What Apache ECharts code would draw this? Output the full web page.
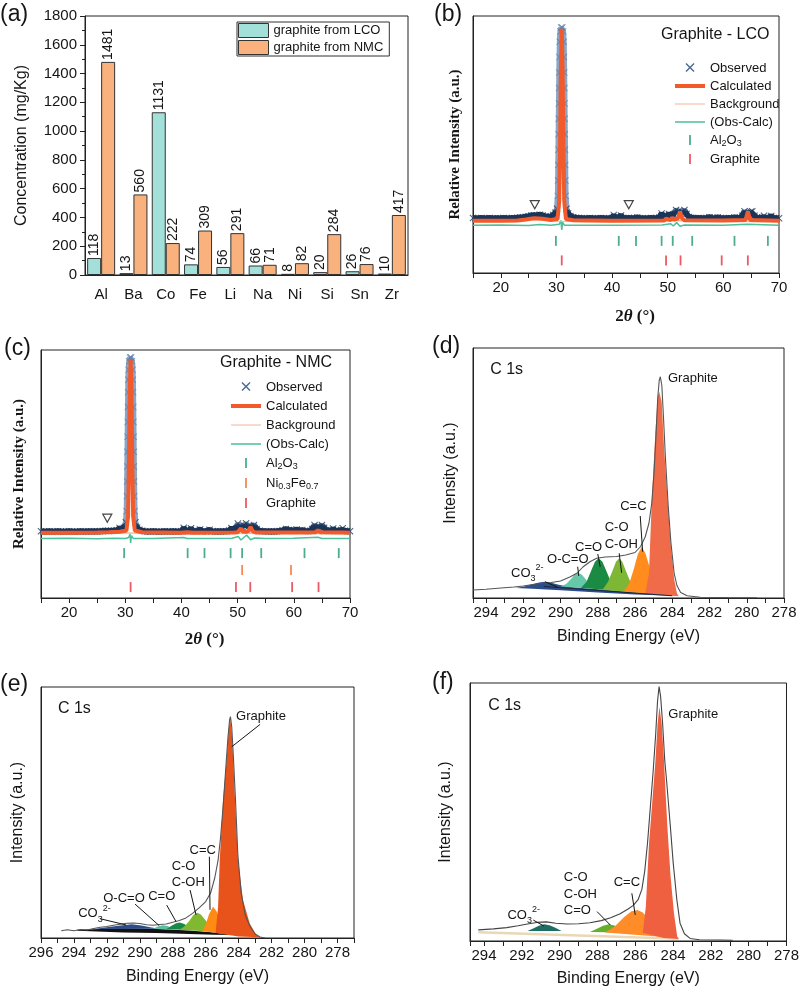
<!DOCTYPE html>
<html><head><meta charset="utf-8">
<script src="https://cdn.jsdelivr.net/npm/echarts@6/dist/echarts.min.js"></script>
<style>html,body{margin:0;padding:0;background:#fff;}#chart{width:802px;height:992px;}</style>
</head><body><div id="chart"></div>
<script>
// ================= DATA =================
// (a) ICP concentrations (mg/Kg)
const elements = ['Al','Ba','Co','Fe','Li','Na','Ni','Si','Sn','Zr'];
const lcoConc = [118,13,1131,74,56,66,8,20,26,10];
const nmcConc = [1481,560,222,309,291,71,82,284,76,417];

// (b) XRD Graphite - LCO  [2theta, relative intensity]
const lcoObserved = [[15,21.4],[15.5,21.2],[16,21.3],[16.5,21.4],[17,21.2],[17.5,21.3],[18,21.4],[18.5,21.2],[19,21.3],[19.5,21.3],[20,21.2],[20.5,21.4],[21,21.3],[21.5,21.2],[22,21.4],[22.5,21.3],[23,21.5],[23.5,21.6],[24,21.7],[24.5,21.9],[25,22.1],[25.5,22.4],[26,22.5],[26.5,22.4],[27,22.7],[27.5,22.4],[28,22.0],[28.5,21.8],[29,22.0],[29.4,22.6],[29.8,23.4],[30.1,25],[30.25,30],[30.3,36],[30.33,42],[30.36,48],[30.39,54],[30.42,60],[30.45,66],[30.48,72],[30.51,78],[30.55,84],[30.6,90],[30.7,94],[30.85,95.5],[31.05,95.5],[31.2,94],[31.3,90],[31.35,84],[31.39,78],[31.42,72],[31.45,66],[31.48,60],[31.51,54],[31.54,48],[31.57,42],[31.6,36],[31.65,30],[31.8,25],[32.1,23.2],[32.5,22.2],[33,21.7],[33.5,21.5],[34,21.4],[34.5,21.3],[35,21.3],[35.5,21.2],[36,21.4],[36.5,21.3],[37,21.2],[37.5,21.3],[38,21.4],[38.5,21.3],[39,21.2],[39.5,21.3],[40,21.4],[40.3,22.6],[40.6,21.5],[41,21.4],[41.6,22.4],[42,21.4],[42.5,21.3],[43,21.4],[43.5,21.3],[44,21.4],[44.5,21.6],[45,21.3],[45.5,21.3],[46,21.2],[46.5,21.3],[47,21.4],[47.5,21.3],[48,21.4],[48.5,21.6],[48.9,23.2],[49.3,21.8],[49.7,22.0],[50.2,23.0],[50.6,22.2],[51.0,22.8],[51.5,24.5],[51.9,24.0],[52.3,23.3],[52.6,23.6],[53.0,24.5],[53.4,23.0],[53.8,21.8],[54.2,21.5],[54.6,21.4],[55,21.3],[55.5,21.4],[56,21.3],[56.5,21.3],[57,21.4],[57.5,21.7],[58,21.4],[58.5,21.3],[59,21.6],[59.5,21.4],[60,21.3],[60.5,21.3],[61,21.4],[61.5,21.3],[62,21.6],[62.5,21.4],[63,21.5],[63.4,22.3],[63.8,24.0],[64.2,23.0],[64.5,22.8],[64.9,23.8],[65.2,24.0],[65.6,22.3],[66,21.5],[66.5,21.4],[67,21.6],[67.3,22.3],[67.6,21.5],[68,21.4],[68.6,22.2],[69,21.4],[69.5,21.3],[70,21.3]];
const lcoCalculated = [[15,20.3],[20,20.3],[23,20.4],[24.5,20.8],[26,21.3],[27.5,21.1],[29,20.6],[30.2,21.0],[30.5,28],[30.65,50],[30.8,80],[30.95,95],[31.1,80],[31.25,50],[31.4,28],[31.7,21.0],[33,20.5],[40,20.3],[49.4,20.4],[49.7,21.2],[50.0,20.5],[50.5,20.6],[50.8,21.6],[51.1,20.8],[51.8,21.2],[52.2,23.9],[52.6,21.2],[53,20.5],[59.4,20.4],[59.7,20.9],[60,20.4],[64.0,20.6],[64.4,23.9],[64.8,20.6],[70,20.3]];
const lcoBackground = [[15,20.0],[22,20.0],[24,20.3],[26,20.9],[28,20.6],[30,20.2],[35,20.0],[45,20.0],[50,20.2],[52,20.4],[55,20.1],[70,20.0]];
const lcoDifference = [[15,18.6],[20,18.7],[25,18.5],[27,18.9],[29,18.6],[30.5,19.0],[30.8,20.4],[30.95,16.8],[31.1,19.8],[31.4,18.6],[40,18.6],[49,18.7],[50.5,19.2],[51,18.3],[51.6,19.6],[52.2,18.2],[53,18.7],[60,18.6],[64.3,19.0],[70,18.6]];
const lcoAl2O3Peaks = [29.9,41.2,44.3,48.9,50.9,54.4,62.0,68.0];
const lcoGraphitePeaks = [30.95,49.7,52.3,59.7,64.4];
const lcoUnknownMarks = [[26.1,26.6],[43.0,26.6]];

// (c) XRD Graphite - NMC
const nmcObserved = [[15,26.9],[15.5,26.7],[16,26.8],[16.5,26.9],[17,26.7],[17.5,26.8],[18,26.9],[18.5,26.8],[19,26.7],[19.5,26.8],[20,26.9],[20.5,26.8],[21,26.7],[21.5,26.8],[22,26.9],[22.5,26.8],[23,26.8],[23.5,26.9],[24,26.8],[24.5,26.9],[25,26.8],[25.5,26.9],[26,27.0],[26.5,27.1],[27,27.0],[27.5,27.1],[28,27.1],[28.5,27.3],[29,28.2],[29.4,27.6],[29.8,28.3],[30.1,30.5],[30.25,35],[30.3,41],[30.33,47],[30.36,53],[30.39,59],[30.42,65],[30.45,71],[30.48,77],[30.51,83],[30.55,88],[30.6,92],[30.7,95.5],[30.85,97],[31.05,97],[31.2,95.5],[31.3,92],[31.35,88],[31.39,83],[31.42,77],[31.45,71],[31.48,65],[31.51,59],[31.54,53],[31.57,47],[31.6,41],[31.65,35],[31.8,30.5],[32.1,28.3],[32.5,27.5],[33,27.1],[33.5,26.9],[34,26.8],[34.5,26.8],[35,26.9],[35.5,26.8],[36,26.7],[36.5,26.8],[37,26.9],[37.5,26.8],[38,26.8],[38.5,26.9],[39,26.8],[39.5,26.8],[40,26.9],[40.4,28.3],[40.8,27.0],[41.2,26.9],[41.7,28.1],[42.1,27.0],[42.6,26.9],[43.3,27.6],[43.8,26.9],[44.3,26.9],[45.0,27.5],[45.5,26.9],[46,26.8],[46.5,26.9],[47,26.8],[47.5,26.9],[48,26.9],[48.5,27.2],[48.9,28.2],[49.3,27.3],[49.7,27.8],[50.05,30.0],[50.4,28.8],[50.7,28.6],[51.1,29.2],[51.5,30.1],[51.9,28.8],[52.3,28.9],[52.9,29.4],[53.4,27.8],[53.9,27.1],[54.4,26.9],[55,26.9],[55.5,26.8],[56,26.9],[56.5,26.8],[57,26.9],[57.5,27.0],[58,27.3],[58.6,27.8],[59.1,27.4],[59.6,27.3],[60,27.2],[60.5,27.6],[61,27.1],[61.5,27.4],[62,27.0],[62.5,26.9],[63,27.1],[63.3,27.8],[63.7,29.4],[64.1,28.4],[64.5,28.6],[65.0,29.4],[65.4,28.3],[65.8,27.4],[66.3,27.0],[66.7,27.1],[67.0,28.0],[67.4,27.1],[68,27.0],[68.4,27.4],[68.7,28.1],[69.1,27.1],[69.5,26.9],[70,26.9]];
const nmcCalculated = [[15,26.3],[20,26.3],[25,26.4],[27,26.5],[29,26.7],[30.2,27.2],[30.5,33],[30.65,55],[30.8,84],[30.95,96],[31.1,84],[31.25,55],[31.4,33],[31.7,27.2],[33,26.5],[40,26.3],[41,26.5],[42,26.3],[49.4,26.4],[49.7,26.9],[50.0,26.5],[50.3,26.7],[50.6,28.1],[50.9,26.8],[51.5,26.7],[51.9,27.0],[52.3,28.7],[52.7,26.9],[53.2,26.4],[59.2,26.4],[59.5,26.9],[59.8,26.4],[63.9,26.5],[64.3,27.4],[64.7,26.5],[68.2,26.4],[68.5,26.7],[68.8,26.4],[70,26.3]];
const nmcBackground = [[15,26.0],[25,26.0],[28,26.2],[30,26.3],[35,26.0],[50,26.1],[53,26.2],[60,26.0],[70,26.0]];
const nmcDifference = [[15,24.0],[20,24.1],[25,23.9],[28,24.1],[30,24.0],[30.6,24.4],[30.85,25.8],[30.95,22.2],[31.1,25.2],[31.4,24.0],[35,24.0],[40.4,24.4],[41,24.0],[45,24.0],[49,24.1],[50.1,24.8],[50.6,23.4],[51.2,24.6],[51.6,25.4],[52.3,23.5],[53,24.2],[55,24.0],[60,24.1],[64.3,24.5],[65,24.0],[70,24.0]];
const nmcAl2O3Peaks = [29.8,41.1,44.1,48.75,50.8,54.2,61.9,68.0];
const nmcNiFePeaks = [50.8,59.5];
const nmcGraphitePeaks = [30.95,49.7,52.25,59.7,64.4];
const nmcUnknownMarks = [[26.8,32.2]];

// (d) XPS C 1s  [binding energy, intensity]
const xpsD_envelope = [[294.7,3.2],[294.0,3.5],[293.2,4.0],[292.5,4.4],[292.0,4.8],[291.5,5.4],[291.0,5.9],[290.5,6.2],[290.0,6.8],[289.5,8.4],[289.1,10.0],[288.8,12.4],[288.4,14.6],[288.06,15.9],[287.6,16.4],[287.0,16.6],[286.5,17.2],[286.0,18.2],[285.7,20.6],[285.45,24.5],[285.25,30],[285.1,38],[284.98,50],[284.88,64],[284.78,80],[284.7,87],[284.64,88.5],[284.56,85],[284.47,72],[284.36,55],[284.22,37],[284.07,22],[283.9,10],[283.75,5],[283.55,2.2],[283.2,0.9],[282.5,0.3],[281,0.15],[279.45,0.1]];
const xpsD_baseline = [[290.9,4.6],[284.0,0.9]];
const xpsD_CO3 = [[292.4,4.0],[291.9,4.7],[291.5,5.5],[291.15,6.2],[290.85,6.5],[290.5,6.1],[290.1,5.3],[289.7,4.7],[289.3,4.3],[288,3.5],[286,2.2],[284.0,0.9],[286,1.4],[288,2.2],[290,3.1],[291.5,3.7]];
const xpsD_OCO = [[290.0,4.6],[289.7,5.6],[289.45,7.5],[289.25,9.3],[289.05,10.1],[288.85,9.3],[288.65,7.5],[288.4,5.2],[288.1,3.6]];
const xpsD_CO = [[288.9,4.1],[288.6,6.5],[288.35,11],[288.15,14.5],[287.95,15.9],[287.75,14.5],[287.55,11],[287.3,6.5],[287.0,2.9]];
const xpsD_COH = [[287.75,3.2],[287.45,6.5],[287.2,11],[287.02,14.5],[286.85,15.9],[286.68,14.5],[286.5,11],[286.25,6.5],[285.9,2.1]];
const xpsD_CC = [[286.6,2.6],[286.3,6],[286.05,12],[285.85,17.5],[285.64,20.5],[285.45,18],[285.2,12],[284.9,5],[284.5,1.2]];
const xpsD_Graphite = [[285.45,1.7],[285.25,9.9],[285.1,39],[284.91,66],[284.78,80.5],[284.7,82.5],[284.57,78.5],[284.43,59],[284.25,39],[284.07,20.5],[283.89,7.2],[283.75,1.9],[283.65,0.7]];
// [text, x, y, anchor, leader x1, y1, x2, y2]
const xpsD_labels = [['C 1s',293.78,91.2,'l'],['Graphite',284.23,88,'l'],['C=C',286.09,36.5,'c',285.72,32.8,285.59,18.5],['C-O',287.63,28.1,'l'],['C-OH',287.63,21.6,'l',286.85,17.9,286.72,10.1],['C=O',288.49,20.4,'c',288.0,17.6,287.87,12.5],['O-C=O',289.61,15.6,'c',289.08,12.5,289.02,8.8],['CO3',292.66,10.0,'l',290.83,6.5,290.15,4.3]];

// (e) XPS C 1s
const xpsE_envelope = [[294.77,2.9],[294.4,3.3],[294.0,2.9],[293.6,3.4],[293.2,3.2],[292.8,3.8],[292.4,4.3],[292.0,4.6],[291.6,5.1],[291.2,5.5],[290.8,5.9],[290.4,6.0],[290.0,5.8],[289.6,5.3],[289.2,5.1],[288.8,5.4],[288.4,5.6],[288.0,6.3],[287.6,7.0],[287.2,8.0],[286.8,9.8],[286.4,12.0],[286.0,14.5],[285.7,18],[285.45,24],[285.25,31],[285.1,40],[284.95,52],[284.8,66],[284.65,80],[284.55,87],[284.5,88.2],[284.42,84],[284.32,72],[284.2,56],[284.05,33],[283.85,18],[283.6,9],[283.3,4.5],[283.0,1.6],[282.7,0.4],[282.4,0.0]];
const xpsE_wedge = [[293.8,3.3],[291,3.9],[289,3.6],[287,3.0],[285.5,2.2],[284.2,1.2],[285.5,1.3],[287,1.6],[289,2.0],[291,2.2],[293.8,2.9]];
const xpsE_CO3 = [[292.8,3.6],[292.0,4.3],[291.3,4.9],[290.5,5.5],[289.9,5.0],[289.3,4.2],[288.8,3.7]];
const xpsE_OCO = [[289.2,3.7],[288.9,4.6],[288.6,5.1],[288.3,4.8],[288.0,3.5]];
const xpsE_CO = [[288.4,3.5],[288.1,4.8],[287.8,5.9],[287.58,6.2],[287.3,5.6],[287.0,4.2],[286.8,3.2]];
const xpsE_COH = [[287.6,3.3],[287.3,4.6],[287.0,6.8],[286.75,9.2],[286.51,10.1],[286.3,9.4],[286.0,7.0],[285.7,4.3],[285.3,2.4]];
const xpsE_CC = [[286.2,2.8],[286.0,5.5],[285.8,9.5],[285.56,12.5],[285.35,10.8],[285.1,6.5],[284.8,3.0],[284.5,1.3]];
const xpsE_Graphite = [[285.4,2.0],[285.25,12.5],[285.15,31],[284.95,55],[284.75,69.6],[284.62,82],[284.52,87.9],[284.42,82],[284.32,69.6],[284.24,57.6],[284.04,31],[283.74,15.1],[283.33,5.8],[282.93,1.2],[282.7,0.3],[284.0,0.6]];
const xpsE_labels = [['C 1s',294.97,91.2,'l'],['Graphite',284.16,88.2,'l',282.7,85.1,284.42,76.2],['C=C',286.18,34.7,'c',285.78,32.4,285.74,11.2],['C-O',288.07,28.4,'l'],['C-OH',288.07,22.0,'l',286.95,19.1,286.59,9.2],['C=O',288.67,16.5,'c',288.37,13.1,287.8,6.5],['O-C=O',290.96,15.8,'c',290.29,13.5,288.82,4.9],['CO3',293.74,9.6,'l',292.42,7.7,290.84,5.2]];

// (f) XPS C 1s
const xpsF_envelope = [[294.3,4.3],[293.5,4.7],[292.8,5.2],[292.2,5.9],[291.7,6.6],[291.2,7.2],[290.7,7.4],[290.2,6.9],[289.6,6.6],[289.0,6.7],[288.4,7.1],[287.8,7.9],[287.3,9.0],[286.8,10.6],[286.4,12.3],[286.1,13.8],[285.85,16],[285.65,20],[285.5,27],[285.35,38],[285.2,52],[285.05,66],[284.92,80],[284.82,93],[284.74,98.6],[284.66,95],[284.55,84],[284.44,70],[284.34,62],[284.15,45],[283.99,30.1],[283.8,16],[283.63,6.9],[283.4,2.8],[283.1,1.0],[282.6,0.5],[281.5,0.4],[280.85,0.3]];
const xpsF_background = [[294.3,3.4],[283.7,0.9]];
const xpsF_CO3 = [[291.7,3.9],[291.4,4.8],[291.1,5.9],[290.8,6.5],[290.5,6.0],[290.2,5.0],[289.9,3.9]];
const xpsF_COH = [[288.4,3.5],[288.0,4.8],[287.7,5.9],[287.4,6.5],[287.1,6.0],[286.8,4.8],[286.5,3.3]];
const xpsF_CC = [[287.6,3.3],[287.1,5.5],[286.6,9.2],[286.2,11.5],[285.88,12.0],[285.6,11.0],[285.3,8.5],[285.0,5.8],[284.65,3.0],[284.3,1.5]];
const xpsF_Graphite = [[285.6,3.2],[285.44,13.3],[285.27,37.9],[285.09,54.7],[284.93,70],[284.82,84],[284.72,90.8],[284.6,84],[284.48,70],[284.3,44.3],[284.13,24.9],[283.95,10.7],[283.78,1.7],[283.7,0.8],[284.5,1.2]];
const xpsF_labels = [['C 1s',293.78,91.1,'l'],['Graphite',284.25,88.0,'l'],['C=C',286.44,22.6,'c',286.18,18.5,286.0,10.1],['C-O',289.78,24.7,'l'],['C-OH',289.78,18.2,'l'],['C=O',289.78,12.0,'l',288.02,11.4,287.32,6.2],['CO3',292.76,10.1,'l',291.39,8.1,290.83,5.8]];

// ================= CHART =================
const SANS = '"Liberation Sans", Arial, Helvetica, sans-serif';
const SERIF = '"Liberation Serif", "Times New Roman", serif';
const INK = '#151515';
const XSYM = 'path://M0,1 L1,0 L5,4 L9,0 L10,1 L6,5 L10,9 L9,10 L5,6 L1,10 L0,9 L4,5 Z';
const ICON_X = 'path://M0,0 L0.01,0 M30,14 L29.99,14 M10.5,3 L11.5,2 L15,5.5 L18.5,2 L19.5,3 L16,6.5 L19.5,10 L18.5,11 L15,7.5 L11.5,11 L10.5,10 L14,6.5 Z';
const ICON_THICK = 'path://M0,0 L0.01,0 M30,14 L29.99,14 M0,5 L30,5 L30,9 L0,9 Z';
const ICON_THIN = 'path://M0,0 L0.01,0 M30,14 L29.99,14 M0,6.4 L30,6.4 L30,7.6 L0,7.6 Z';
const ICON_MED = 'path://M0,0 L0.01,0 M30,14 L29.99,14 M0,6.2 L30,6.2 L30,7.8 L0,7.8 Z';
const ICON_TICK = 'path://M0,0 L0.01,0 M30,14 L29.99,14 M14.1,2 L15.9,2 L15.9,12 L14.1,12 Z';

const C = {
  lco:'#A3E0DA', nmc:'#F9B27E', obsDark:'#1B365A', obsLight:'#8AA5C6', calc:'#F25A2C', bg:'#F6B49C', diff:'#4CBF9B',
  al2o3:'#1F9A70', graphite:'#E8313C', nife:'#F26B2E'
};
// vertical gradient for the observed trace: light on the tall peak, dark navy on the baseline band
function obsGradient(frac) {
  return {type:'linear', x:0, y:0, x2:0, y2:1, global:false, colorStops:[
    {offset:0, color:C.obsLight}, {offset:frac, color:C.obsLight}, {offset:Math.min(1, frac + 0.02), color:C.obsDark}, {offset:1, color:C.obsDark}]};
}

let chart = null;
const series = [];
function add(s){ series.push(s); return series.length - 1; }

// (a) bars
const barLabel = {show:true, position:'top', rotate:90, align:'left', verticalAlign:'middle', distance:2, fontSize:14, color:INK, fontFamily:SANS};
add({name:'graphite from LCO', type:'bar', xAxisIndex:0, yAxisIndex:0, data:lcoConc, barWidth:14, barGap:'0%', itemStyle:{color:C.lco, borderColor:'#333', borderWidth:1}, label:barLabel});
add({name:'graphite from NMC', type:'bar', xAxisIndex:0, yAxisIndex:0, data:nmcConc, barWidth:14, barGap:'0%', itemStyle:{color:C.nmc, borderColor:'#333', borderWidth:1}, label:barLabel});

// XRD panels
function xrd(gi, obs, calc, bg, diff, phases, marks, gradFrac) {
  add({name:'Observed', type:'line', xAxisIndex:gi, yAxisIndex:gi, data:obs, symbol:'none', lineStyle:{width:6, color:obsGradient(gradFrac)}, itemStyle:{color:C.obsDark}, z:3});
  const iObs = add({name:'Observed', type:'scatter', xAxisIndex:gi, yAxisIndex:gi, data:obs, symbol:XSYM, symbolSize:7, itemStyle:{color:C.obsDark}, z:3});
  add({name:'(Obs-Calc)', type:'line', xAxisIndex:gi, yAxisIndex:gi, data:diff, symbol:'none', lineStyle:{width:1.5, color:C.diff}, itemStyle:{color:C.diff}, z:3});
  add({name:'Background', type:'line', xAxisIndex:gi, yAxisIndex:gi, data:bg, symbol:'none', lineStyle:{width:1.3, color:C.bg}, itemStyle:{color:C.bg}, z:4});
  add({name:'Calculated', type:'line', xAxisIndex:gi, yAxisIndex:gi, data:calc, symbol:'none', lineStyle:{width:4, color:C.calc}, itemStyle:{color:C.calc}, z:5});
  phases.forEach(ph => add({name:ph.name, type:'scatter', xAxisIndex:gi, yAxisIndex:gi, data:ph.peaks.map(x => [x, ph.level]), symbol:'rect', symbolSize:[1.8,10], itemStyle:{color:ph.color}, z:4}));
  add({name:'unidentified', type:'scatter', xAxisIndex:gi, yAxisIndex:gi, data:marks, symbol:'triangle', symbolRotate:180, symbolSize:[9,8], itemStyle:{color:'#fff', borderColor:INK, borderWidth:1.2}, z:6});
  return iObs;
}
const iObsB = xrd(1, lcoObserved, lcoCalculated, lcoBackground, lcoDifference,
  [{name:'Al2O3', peaks:lcoAl2O3Peaks, level:12.5, color:C.al2o3}, {name:'Graphite', peaks:lcoGraphitePeaks, level:4.9, color:C.graphite}], lcoUnknownMarks, 0.93);
const iObsC = xrd(2, nmcObserved, nmcCalculated, nmcBackground, nmcDifference,
  [{name:'Al2O3', peaks:nmcAl2O3Peaks, level:18.1, color:C.al2o3}, {name:'Ni0.3Fe0.7', peaks:nmcNiFePeaks, level:11.3, color:C.nife}, {name:'Graphite', peaks:nmcGraphitePeaks, level:4.4, color:C.graphite}], nmcUnknownMarks, 0.93);

// XPS helpers
function toPx(gi, api, p) {
  if (api && typeof api.coord === 'function') return api.coord(p);
  return chart.convertToPixel({gridIndex:gi}, p);
}
function polygon(gi, pts, color) {
  add({type:'custom', coordinateSystem:'cartesian2d', xAxisIndex:gi, yAxisIndex:gi, clip:true, silent:true, z:2, data:[pts[0]],
    renderItem:function(params, api){ return {type:'polygon', shape:{points:pts.map(p => toPx(gi, api, p))}, style:{fill:color}}; }});
}
function line(gi, pts, color, width, z) {
  add({type:'line', xAxisIndex:gi, yAxisIndex:gi, data:pts, symbol:'none', silent:true, lineStyle:{color:color, width:width}, z:z||3});
}
const RICH = {
  n:{fontSize:13, fontFamily:SANS, fill:INK, color:INK, lineHeight:20},
  sub:{fontSize:9, fontFamily:SANS, fill:INK, color:INK, lineHeight:9, verticalAlign:'bottom'},
  sup:{fontSize:9, fontFamily:SANS, fill:INK, color:INK, lineHeight:9, verticalAlign:'top'}
};
function labels(gi, list) {
  add({type:'custom', coordinateSystem:'cartesian2d', xAxisIndex:gi, yAxisIndex:gi, clip:false, silent:true, z:10,
    data:list.map(a => [a[1], a[2]]),
    renderItem:function(params, api){
      const a = list[params.dataIndex];
      const p = toPx(gi, api, [a[1], a[2]]);
      const big = a[0] === 'C 1s';
      const txt = a[0] === 'CO3' ? '{n|CO}{sub|3}{sup|2-}' : a[0];
      const kids = [{type:'text', x:p[0], y:p[1], style:{text:txt, fill:INK, fontFamily:SANS,
        fontSize: big ? 16 : 13, align: a[3] === 'l' ? 'left' : 'center', verticalAlign:'middle', rich:RICH}}];
      if (a.length > 4) {
        const p1 = toPx(gi, api, [a[4], a[5]]), p2 = toPx(gi, api, [a[6], a[7]]);
        kids.push({type:'line', shape:{x1:p1[0], y1:p1[1], x2:p2[0], y2:p2[1]}, style:{stroke:INK, lineWidth:1}});
      }
      return {type:'group', children:kids};
    }});
}

// (d)
polygon(3, xpsD_CO3, '#2D4D89');
polygon(3, xpsD_OCO, '#66C8A8');
polygon(3, xpsD_CO, '#1B8B44');
polygon(3, xpsD_COH, '#7EB636');
polygon(3, xpsD_CC, '#FF8C1C');
polygon(3, xpsD_Graphite, '#EF6B49');
line(3, xpsD_baseline, '#1B2440', 1);
line(3, xpsD_envelope, '#555', 1.1, 5);
labels(3, xpsD_labels);
// (e)
polygon(4, xpsE_wedge, '#111');
polygon(4, xpsE_CO3, '#2E4C85');
polygon(4, xpsE_OCO, '#5BBF9F');
polygon(4, xpsE_CO, '#178A47');
polygon(4, xpsE_COH, '#80B830');
polygon(4, xpsE_CC, '#FF8A14');
polygon(4, xpsE_Graphite, '#E8521B');
line(4, xpsE_envelope, '#555', 1.1, 5);
labels(4, xpsE_labels);
// (f)
line(5, xpsF_background, '#EAD8B4', 2.5, 1);
polygon(5, xpsF_CO3, '#1F6E66');
polygon(5, xpsF_COH, '#65AE2E');
polygon(5, xpsF_CC, '#FF8C28');
polygon(5, xpsF_Graphite, '#EE6040');
line(5, xpsF_envelope, '#444', 1.1, 5);
labels(5, xpsF_labels);

// axes
const axLine = {lineStyle:{color:'#222', width:1}};
const tickLab = {fontSize:15, color:INK, fontFamily:SANS};
function xrdX(gi, nameGap) {
  return {gridIndex:gi, type:'value', min:15, max:70, interval:5, axisLine:axLine,
    axisTick:{length:5, lineStyle:{color:'#222'}}, splitLine:{show:false},
    axisLabel:Object.assign({margin:7, formatter:v => (v % 10 === 0 ? String(v) : '')}, tickLab),
    name:'{b|2}{i|θ}{b| (°)}', nameLocation:'middle', nameGap:nameGap,
    nameTextStyle:{padding:[0,0,0,18], rich:{b:{fontFamily:SERIF, fontWeight:'bold', fontSize:17, color:INK}, i:{fontFamily:SERIF, fontWeight:'bold', fontStyle:'italic', fontSize:17, color:INK}}}};
}
function xpsX(gi, min, max, nameGap) {
  return {gridIndex:gi, type:'value', inverse:true, min:min, max:max, interval:1, axisLine:axLine,
    axisTick:{length:5, lineStyle:{color:'#222'}}, splitLine:{show:false},
    axisLabel:Object.assign({margin:7, formatter:v => (Math.abs(v - Math.round(v)) < 1e-6 && Math.round(v) % 2 === 0 ? String(Math.round(v)) : '')}, tickLab),
    name:'Binding Energy (eV)', nameLocation:'middle', nameGap:nameGap,
    nameTextStyle:{fontSize:16, fontFamily:SANS, color:INK}};
}
function plainY(gi, name, nameGap, serif) {
  return {gridIndex:gi, type:'value', min:0, max:100, axisLine:Object.assign({show:true}, axLine),
    axisTick:{show:false}, axisLabel:{show:false}, splitLine:{show:false},
    name:name, nameLocation:'middle', nameGap:nameGap,
    nameTextStyle: serif ? {fontFamily:SERIF, fontWeight:'bold', fontSize:15, color:INK} : {fontFamily:SANS, fontSize:16, color:INK}};
}

const gridBox = {show:true, borderColor:'#222', borderWidth:1, backgroundColor:'transparent', containLabel:false};
const legendText = {fontSize:13, fontFamily:SANS, color:INK,
  rich:{t:{fontSize:13, fontFamily:SANS, color:INK, lineHeight:16}, s:{fontSize:9, fontFamily:SANS, color:INK, lineHeight:9, verticalAlign:'bottom'}}};
const legendFmt = name => ({'Al2O3':'{t|Al}{s|2}{t|O}{s|3}', 'Ni0.3Fe0.7':'{t|Ni}{s|0.3}{t|Fe}{s|0.7}'}[name] || name);
function xrdLegend(left, top, gap, names) {
  const icons = {'Observed':[ICON_X,'#4A6A90'], 'Calculated':[ICON_THICK,C.calc], 'Background':[ICON_THIN,C.bg], '(Obs-Calc)':[ICON_MED,C.diff],
    'Al2O3':[ICON_TICK,C.al2o3], 'Ni0.3Fe0.7':[ICON_TICK,C.nife], 'Graphite':[ICON_TICK,C.graphite]};
  return {left:left, top:top, orient:'vertical', itemWidth:30, itemHeight:14, itemGap:gap, padding:0, selectedMode:false,
    itemStyle:{borderWidth:0}, formatter:legendFmt, textStyle:legendText,
    data:names.map(n => ({name:n, icon:icons[n][0], itemStyle:{color:icons[n][1], borderWidth:0}}))};
}
const panelTitle = (t, left, top) => ({text:t, left:left, top:top, padding:0, textStyle:{fontSize:23, fontWeight:'normal', fontFamily:SANS, color:INK}});

const option = {
  animation:false,
  backgroundColor:'#fff',
  textStyle:{fontFamily:SANS},
  title:[
    panelTitle('(a)', 0, 3), panelTitle('(b)', 434, 3), panelTitle('(c)', 4, 337),
    panelTitle('(d)', 432, 335), panelTitle('(e)', 0, 673), panelTitle('(f)', 432, 671),
    {text:'Graphite - LCO', left:661, top:27, padding:0, textStyle:{fontSize:16, fontWeight:'normal', fontFamily:SANS, color:INK}},
    {text:'Graphite - NMC', left:220, top:355, padding:0, textStyle:{fontSize:16, fontWeight:'normal', fontFamily:SANS, color:INK}}
  ],
  grid:[
    Object.assign({left:85, top:16, width:323, height:259}, gridBox),
    Object.assign({left:473, top:16, width:306, height:257}, gridBox),
    Object.assign({left:41, top:350, width:309, height:248}, gridBox),
    Object.assign({left:473, top:348, width:311, height:250}, gridBox),
    Object.assign({left:41, top:687, width:313, height:251}, gridBox),
    Object.assign({left:470, top:683, width:318, height:258}, gridBox)
  ],
  xAxis:[
    {gridIndex:0, type:'category', data:elements, axisTick:{show:false}, axisLine:axLine, axisLabel:Object.assign({margin:12}, tickLab)},
    xrdX(1, 35), xrdX(2, 33),
    xpsX(3, 278, 294.7, 31), xpsX(4, 277, 296, 31), xpsX(5, 278, 294.74, 30)
  ],
  yAxis:[
    {gridIndex:0, type:'value', min:0, max:1800, interval:200, axisLine:Object.assign({show:true}, axLine),
      axisTick:{show:true, length:5, lineStyle:{color:'#222'}}, minorTick:{show:true, splitNumber:2, length:3, lineStyle:{color:'#222'}},
      splitLine:{show:false}, axisLabel:Object.assign({margin:8, formatter:v => String(v)}, tickLab),
      name:'Concentration (mg/Kg)', nameLocation:'middle', nameGap:55, nameTextStyle:{fontSize:16, fontFamily:SANS, color:INK}},
    plainY(1, 'Relative Intensity (a.u.)', 10, true),
    plainY(2, 'Relative Intensity (a.u.)', 14, true),
    plainY(3, 'Intensity (a.u.)', 14, false),
    plainY(4, 'Intensity (a.u.)', 15, false),
    plainY(5, 'Intensity (a.u.)', 16, false)
  ],
  legend:[
    {left:237, top:22, orient:'vertical', itemWidth:30, itemHeight:14, itemGap:2, padding:[1,6,1,1],
      borderColor:'#333', borderWidth:1, selectedMode:false, itemStyle:{borderColor:'#333', borderWidth:1},
      textStyle:{fontSize:13, fontFamily:SANS, color:INK},
      data:[{name:'graphite from LCO', icon:'rect'}, {name:'graphite from NMC', icon:'rect'}]},
    xrdLegend(675, 61, 4, ['Observed','Calculated','Background','(Obs-Calc)','Al2O3','Graphite']),
    xrdLegend(231, 380, 5, ['Observed','Calculated','Background','(Obs-Calc)','Al2O3','Ni0.3Fe0.7','Graphite'])
  ],
  visualMap:[
    {show:false, type:'piecewise', seriesIndex:iObsB, dimension:1, pieces:[{min:0, max:25.5, color:C.obsDark},{min:25.5, max:100, color:'#5F7FA6'}]},
    {show:false, type:'piecewise', seriesIndex:iObsC, dimension:1, pieces:[{min:0, max:31, color:C.obsDark},{min:31, max:100, color:'#5F7FA6'}]}
  ],
  series:series
};

chart = echarts.init(document.getElementById('chart'), null, {renderer:'canvas'});
chart.setOption(option);
</script>
</body></html>
